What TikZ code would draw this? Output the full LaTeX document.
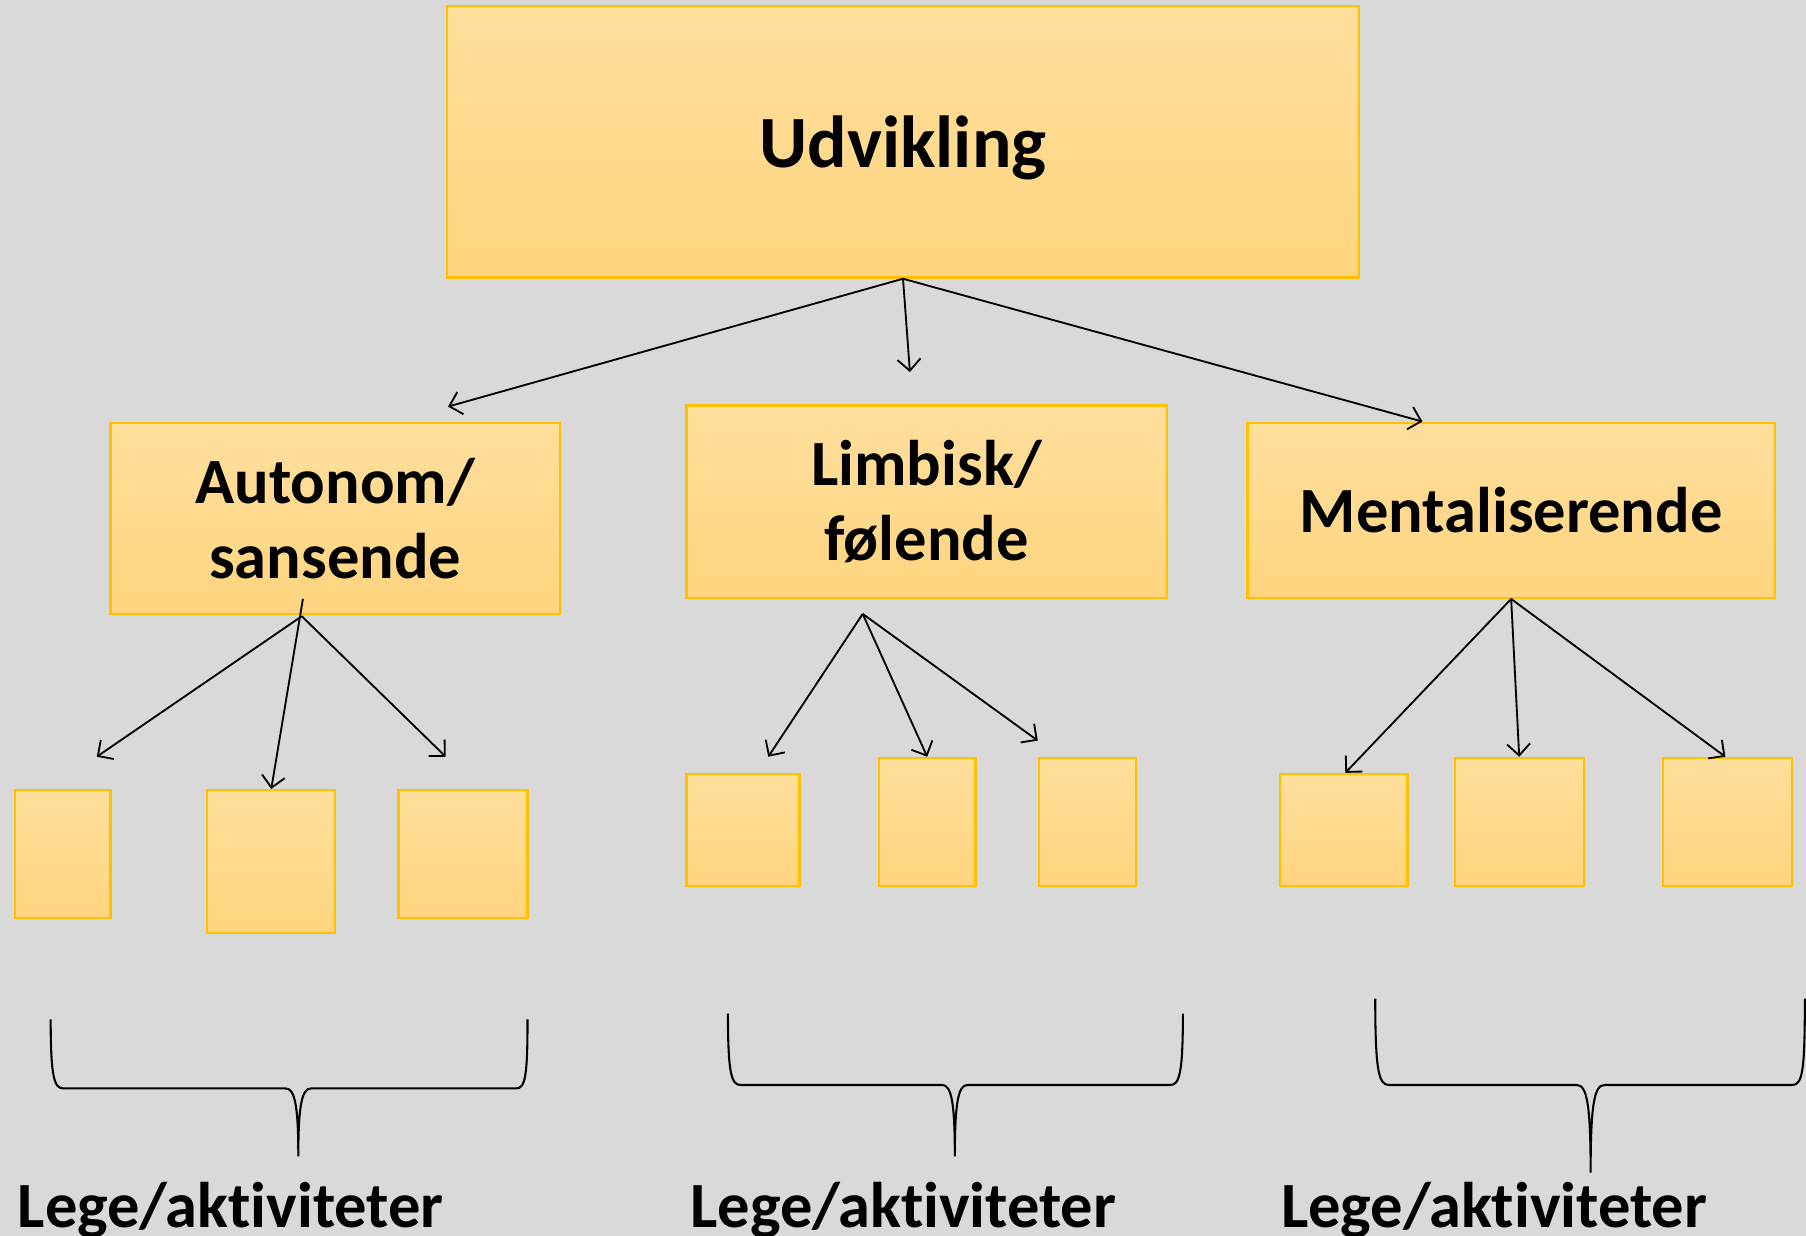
\documentclass[tikz,border=0pt]{standalone}
\usepackage{fontspec}
\setmainfont[Ligatures=NoCommon]{Carlito}
\usetikzlibrary{arrows.meta}
\definecolor{bg}{HTML}{D9D9D9}
\definecolor{boxline}{HTML}{FFC000}
\definecolor{boxtop}{HTML}{FFDF9E}
\definecolor{boxbot}{HTML}{FFD47E}
\tikzset{
  pbox/.style={draw=boxline, line width=1pt, top color=boxtop, bottom color=boxbot,
    rectangle, inner sep=0pt, align=center, font=\bfseries\fontsize{28}{32.5}\selectfont},
  conn/.style={draw=black, line width=0.8pt, -{Straight Barb[length=5pt,width=10pt,line width=0.8pt]}},
  brace/.style={draw=black, line width=0.9pt},
  lbl/.style={anchor=base west, inner sep=0pt, font=\bfseries\fontsize{28}{32}\selectfont}
}
\begin{document}
\begin{tikzpicture}[x=0.5pt,y=-0.5pt]
\fill[bg] (0,0) rectangle (1568,1073);
\useasboundingbox (0,0) rectangle (1568,1073);
\clip (0,0) rectangle (1568,1073);

% main boxes
\node[pbox, minimum width=396pt, minimum height=118pt, text depth=0pt, font=\bfseries\fontsize{32}{36}\selectfont] (top) at (784,123) {Udvikling};
\node[pbox, minimum width=195pt, minimum height=83pt] (A) at (291,450) {Autonom/\\sansende};
\node[pbox, minimum width=208.5pt, minimum height=83.5pt] (L) at (804.5,435.5) {Limbisk/\\følende};
\node[pbox, minimum width=229pt, minimum height=76pt] (M) at (1312,443) {Mentaliserende};

% small boxes
\node[pbox, minimum width=41.5pt, minimum height=55.5pt] (A1) at (54.5,741.5) {};
\node[pbox, minimum width=55.5pt, minimum height=62pt] (A2) at (235.5,748) {};
\node[pbox, minimum width=56pt, minimum height=55.5pt] (A3) at (402,741.5) {};
\node[pbox, minimum width=49pt, minimum height=48.5pt] (L1) at (645,720.5) {};
\node[pbox, minimum width=42pt, minimum height=55.5pt] (L2) at (805,713.5) {};
\node[pbox, minimum width=42pt, minimum height=55.5pt] (L3) at (944,713.5) {};
\node[pbox, minimum width=55.5pt, minimum height=48.5pt] (M1) at (1166.5,720.5) {};
\node[pbox, minimum width=56pt, minimum height=55.5pt] (M2) at (1319,713.5) {};
\node[pbox, minimum width=56pt, minimum height=55.5pt] (M3) at (1500,713.5) {};

% free arrow ends
\coordinate (tA) at (389,353);
\coordinate (tL) at (790,323);
\coordinate (tM) at (1235,366);
\coordinate (sA) at (262,535);
\coordinate (sA2) at (263,520);
\coordinate (eA1) at (84,657);
\coordinate (eA3) at (387,657);
\coordinate (sL) at (749,533);
\coordinate (eL1) at (667,657);
\coordinate (eL3) at (901,643);
\coordinate (eM1) at (1168,671);
\coordinate (eM3) at (1498,657);

% arrows from top
\draw[conn] (top.south) -- (tA);
\draw[conn] (top.south) -- (tL);
\draw[conn] (top.south) -- (tM);
% arrows from A
\draw[conn] (sA) -- (eA1);
\draw[conn] (sA2) -- (A2.north);
\draw[conn] (sA) -- (eA3);
% arrows from L
\draw[conn] (sL) -- (eL1);
\draw[conn] (sL) -- (L2.north);
\draw[conn] (sL) -- (eL3);
% arrows from M
\draw[conn] (M.south) -- (eM1);
\draw[conn] (M.south) -- (M2.north);
\draw[conn] (M.south) -- (eM3);

% braces
\draw[brace] (44,885) .. controls (44,935) and (47,945) .. (55,945) -- (248,945)
  .. controls (256,945) and (259,960) .. (259,1004)
  .. controls (259,960) and (262,945) .. (270,945) -- (448,945)
  .. controls (456,945) and (458,935) .. (458,885);
\draw[brace] (632,880) .. controls (632,932) and (635,942) .. (643,942) -- (818,942)
  .. controls (826,942) and (829,957) .. (829,1004)
  .. controls (829,957) and (832,942) .. (840,942) -- (1016,942)
  .. controls (1024,942) and (1027,932) .. (1027,880);
\draw[brace] (1194,867) .. controls (1194,930) and (1197,942) .. (1206,942) -- (1369,942)
  .. controls (1378,942) and (1381,960) .. (1381,1018)
  .. controls (1381,960) and (1384,942) .. (1393,942) -- (1556,942)
  .. controls (1565,942) and (1567,930) .. (1567,867);

% labels
\node[lbl] (g1) at (15,1066) {Lege/aktiviteter};
\node[lbl] (g2) at (599,1066) {Lege/aktiviteter};
\node[lbl] (g3) at (1112,1066) {Lege/aktiviteter};
\end{tikzpicture}
\end{document}
